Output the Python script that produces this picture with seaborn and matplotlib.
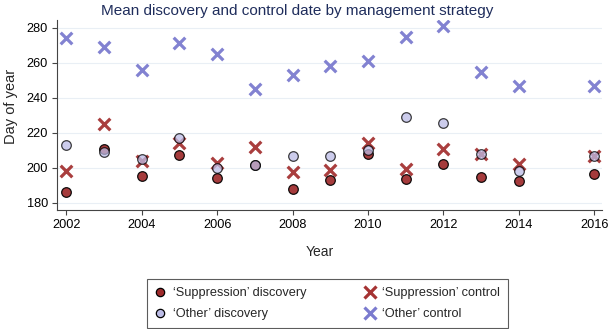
import matplotlib
matplotlib.use("Agg")
import matplotlib.pyplot as plt
import seaborn as sns
import pandas as pd
from matplotlib.lines import Line2D

years = [2002, 2003, 2004, 2005, 2006, 2007, 2008, 2009, 2010, 2011, 2012, 2013, 2014, 2016]
supp_discovery = [186.5, 211, 195.5, 207.5, 194, 201.4, 188, 193, 208, 193.6, 202.3, 195, 192.3, 196.6]
other_discovery = [213, 209, 205, 217, 200.2, 201.4, 207, 206.5, 210, 228.8, 225.6, 208, 198, 206.5]
supp_control = [198, 225, 204, 214, 203, 212, 197.5, 199, 214, 199.5, 211, 208, 202, 206.5]
other_control = [274, 269.3, 256, 271.2, 265, 245, 253, 258, 261, 274.5, 280.8, 254.5, 247, 247]

df = pd.DataFrame({"year": years, "sd": supp_discovery, "od": other_discovery,
                   "sc": supp_control, "oc": other_control})

sns.set_theme(style="white")
plt.rcParams["font.family"] = ["Liberation Sans", "DejaVu Sans"]

fig = plt.figure(figsize=(6.08, 3.29), dpi=100)
ax = fig.add_axes([0.094, 0.362, 0.896, 0.578])

red = "#9e2a2b"
light = "#bcbce6"
xred = "#a53333"
xblue = "#7b7bcf"

sns.scatterplot(data=df, x="year", y="sc", ax=ax, color=xred, marker="x", s=70,
                linewidth=2.3, alpha=0.95, zorder=3)
sns.scatterplot(data=df, x="year", y="oc", ax=ax, color=xblue, marker="x", s=70,
                linewidth=2.3, alpha=0.95, zorder=3)
sns.scatterplot(data=df, x="year", y="sd", ax=ax, color=red, s=48, edgecolor="black",
                linewidth=0.9, alpha=0.92, zorder=4)
sns.scatterplot(data=df, x="year", y="od", ax=ax, color=light, s=48, edgecolor="black",
                linewidth=0.9, alpha=0.75, zorder=5)

ax.set_xlim(2001.76, 2016.2)
ax.set_ylim(176, 284.6)
ax.set_xticks([2002, 2004, 2006, 2008, 2010, 2012, 2014, 2016])
ax.set_yticks([180, 200, 220, 240, 260, 280])
ax.yaxis.grid(True, color="#e9eff5", linewidth=0.8)
ax.xaxis.grid(False)
for s in ["top", "right"]:
    ax.spines[s].set_visible(False)
for s in ["left", "bottom"]:
    ax.spines[s].set_color("#444444")
    ax.spines[s].set_linewidth(0.8)
ax.tick_params(axis="both", which="both", direction="out", length=3.5, width=0.8,
               labelsize=9.2, colors="#444444", labelcolor="black", left=True, bottom=True, pad=3)
ax.set_xlabel("Year", fontsize=10)
ax.set_ylabel("Day of year", fontsize=10.5)
ax.xaxis.set_label_coords(0.483, -0.185)
ax.yaxis.set_label_coords(-0.071, 0.542)
fig.text(0.488, 0.968, "Mean discovery and control date by management strategy",
         fontsize=11, color="#1f2d5c", ha="center", va="center")

handles = [
    Line2D([], [], marker="o", linestyle="", markerfacecolor=red, markeredgecolor="black",
           markersize=6, markeredgewidth=0.9),
    Line2D([], [], marker="o", linestyle="", markerfacecolor=light, markeredgecolor="black",
           markersize=6, markeredgewidth=0.9),
    Line2D([], [], marker="x", linestyle="", color=xred, markersize=8.5, markeredgewidth=2.3),
    Line2D([], [], marker="x", linestyle="", color=xblue, markersize=8.5, markeredgewidth=2.3),
]
labels = ["\u2018Suppression\u2019 discovery", "\u2018Other\u2019 discovery",
          "\u2018Suppression\u2019 control", "\u2018Other\u2019 control"]
leg = fig.legend(handles, labels, loc="lower center", ncol=2,
                 fontsize=9.2, frameon=True, fancybox=False, edgecolor="#333333",
                 columnspacing=4.6, handletextpad=0.57, borderpad=0.6, labelspacing=0.72,
                 handlelength=0.8, borderaxespad=0.0)
leg.get_frame().set_linewidth(0.8)
leg.set_bbox_to_anchor((0.539, 0.003), transform=fig.transFigure)

fig.savefig("out.png", dpi=100)
